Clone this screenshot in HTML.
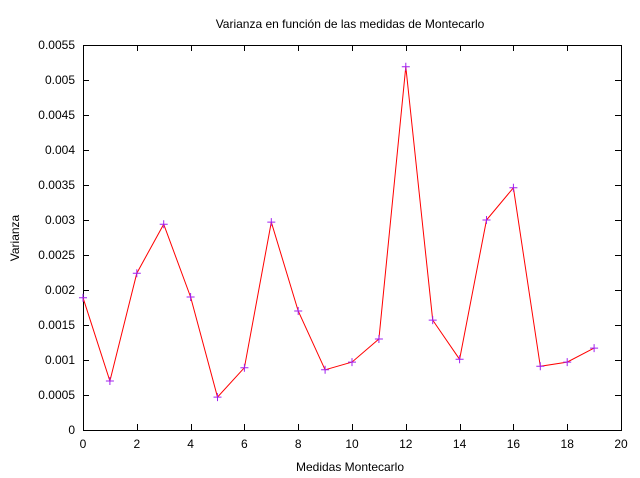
<!DOCTYPE html>
<html><head><meta charset="utf-8"><style>
html,body{margin:0;padding:0;background:#fff;}
svg{display:block;font-family:"Liberation Sans",sans-serif;}
</style></head><body>
<svg id="chart" width="640" height="478" xmlns="http://www.w3.org/2000/svg">
<text x="350" y="28" font-size="12" text-anchor="middle">Varianza en función de las medidas de Montecarlo</text>
<text x="350" y="471" font-size="12" text-anchor="middle">Medidas Montecarlo</text>
<text x="19" y="238" font-size="12" text-anchor="middle" transform="rotate(-90 19 238)">Varianza</text>
<g id="axes"></g>
<g id="series"></g>
</svg>
<script>
const xTicks = [0,2,4,6,8,10,12,14,16,18,20];
const yTicks = [0,0.0005,0.001,0.0015,0.002,0.0025,0.003,0.0035,0.004,0.0045,0.005,0.0055];
const yTickLabels = ["0","0.0005","0.001","0.0015","0.002","0.0025","0.003","0.0035","0.004","0.0045","0.005","0.0055"];
const xValues = [0,1,2,3,4,5,6,7,8,9,10,11,12,13,14,15,16,17,18,19];
const varianceValues = [0.00189,0.0007,0.00224,0.00294,0.0019,0.00047,0.00089,0.00297,0.0017,0.00086,0.00097,0.0013,0.00519,0.00157,0.00101,0.003,0.00346,0.00091,0.00097,0.00117];

const L=83,R=621,T=45,B=430,xMax=20,yMax=0.0055;
const sx=v=>L+(R-L)*v/xMax;
const sy=v=>B-(B-T)*v/yMax;
const NS="http://www.w3.org/2000/svg";
function mk(tag,attrs,parent){const e=document.createElementNS(NS,tag);for(const k in attrs)e.setAttribute(k,attrs[k]);parent.appendChild(e);return e;}
const axes=document.getElementById('axes');
const series=document.getElementById('series');

const frame=mk('rect',{x:L+0.5,y:T+0.5,width:R-L,height:B-T,fill:'none',stroke:'#000','stroke-width':1},axes);



xTicks.forEach(v=>{
  const x=Math.round(sx(v))+0.5;
  const t=mk('path',{d:`M${x} ${B}v-6M${x} ${T}v6`,stroke:'#000','stroke-width':1},axes);
  
  
  const lb=mk('text',{x:sx(v),y:B+18,'font-size':12,'text-anchor':'middle'},axes);
  lb.textContent=v;
  
  
});
yTicks.forEach((v,i)=>{
  const y=Math.round(sy(v))+0.5;
  const t=mk('path',{d:`M${L} ${y}h6M${R} ${y}h-6`,stroke:'#000','stroke-width':1},axes);
  
  
  const lb=mk('text',{x:75,y:sy(v)+4,'font-size':12,'text-anchor':'end'},axes);
  lb.textContent=yTickLabels[i];
  
  
});

const pts=xValues.map((x,i)=>[sx(x),sy(varianceValues[i])]);
const line=mk('polyline',{points:pts.map(p=>p.join(',')).join(' '),fill:'none',stroke:'#ff0000','stroke-width':1},series);


pts.forEach(p=>{
  const m=mk('path',{d:`M${p[0]-4} ${p[1]}h8M${p[0]} ${p[1]-4}v8`,stroke:'#a020f0','stroke-width':1},series);
  
  
});
</script>
</body></html>
